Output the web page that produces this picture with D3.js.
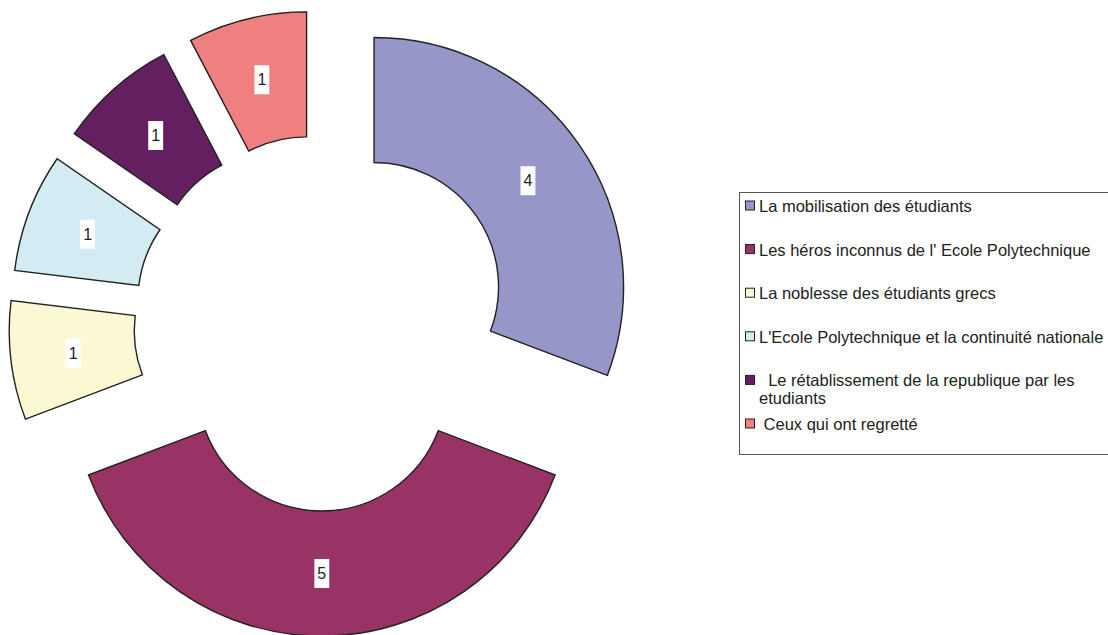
<!DOCTYPE html>
<html>
<head>
<meta charset="utf-8">
<script src="https://cdn.jsdelivr.net/npm/d3@7"></script>
<style>
  html, body { margin: 0; padding: 0; background: #fff; }
  svg { display: block; }
</style>
</head>
<body>
<div id="chart"></div>
<script>
const categories = [
  "La mobilisation des étudiants",
  "Les héros inconnus de l' Ecole Polytechnique",
  "La noblesse des étudiants grecs",
  "L'Ecole Polytechnique et la continuité nationale",
  "  Le rétablissement de la republique par les etudiants",
  " Ceux qui ont regretté"
];
const values = [4, 5, 1, 1, 1, 1];
const colors = ["#9696c8", "#993366", "#fbf9d3", "#d3ecf3", "#641f61", "#f08080"];

const width = 1108, height = 635;
const cx = 321.8, cy = 323;
const outerR = 249.5, innerR = 124.5;
const explode = 63.5;

const svg = d3.select("#chart").append("svg")
  .attr("width", width)
  .attr("height", height);

const pie = d3.pie().sort(null).value(d => d.value);
const arc = d3.arc().innerRadius(innerR).outerRadius(outerR);
const data = pie(categories.map((c, i) => ({ name: c, value: values[i], color: colors[i] })));

const g = svg.append("g").attr("transform", "translate(" + cx + "," + cy + ")");

const slices = g.selectAll("g.slice")
  .data(data)
  .enter()
  .append("g")
    .attr("class", "slice")
    .attr("transform", function(d) {
      const a = (d.startAngle + d.endAngle) / 2;
      return "translate(" + (Math.sin(a) * explode) + "," + (-Math.cos(a) * explode) + ")";
    });

slices.append("path")
  .attr("d", arc)
  .attr("fill", d => d.data.color)
  .attr("stroke", "#222")
  .attr("stroke-width", 1.4)
  .attr("stroke-linejoin", "miter");

// value labels with white boxes
slices.each(function(d) {
  const sel = d3.select(this);
  const [lx, ly] = arc.centroid(d);
  const t = sel.append("text")
    .attr("x", lx)
    .attr("y", ly)
    .attr("text-anchor", "middle")
    .attr("dominant-baseline", "central")
    .style("font-family", "'Liberation Sans', Arial, sans-serif")
    .style("font-size", "16px")
    .style("fill", "#222")
    .text(d.data.value);
  const w = t.node().getComputedTextLength();
  sel.insert("rect", "text")
    .attr("x", lx - w / 2 - 3)
    .attr("y", ly - 14.5)
    .attr("width", w + 6)
    .attr("height", 29)
    .attr("fill", "#fff");
});

// legend
const legend = svg.append("g");
legend.append("rect")
  .attr("x", 739.5)
  .attr("y", 192.5)
  .attr("width", 380)
  .attr("height", 262)
  .attr("fill", "#fff")
  .attr("stroke", "#555")
  .attr("stroke-width", 1);

const rowY = d3.scaleLinear().domain([0, 1]).range([206, 249.6]);
const maxTextW = 346;

categories.forEach(function(name, i) {
  const y = rowY(i);
  legend.append("rect")
    .attr("x", 745.5)
    .attr("y", y - 5)
    .attr("width", 9)
    .attr("height", 9)
    .attr("fill", colors[i])
    .attr("stroke", "#222")
    .attr("stroke-width", 1);

  const t = legend.append("text")
    .attr("x", 759)
    .attr("y", y)
    .attr("dominant-baseline", "central")
    .attr("xml:space", "preserve")
    .style("white-space", "pre")
    .style("font-family", "'Liberation Sans', Arial, sans-serif")
    .style("font-size", "16.5px")
    .style("fill", "#222");

  // simple word wrap
  const words = name.split(" ");
  let line = "";
  let lineNo = 0;
  let tspan = t.append("tspan").attr("x", 759).attr("y", y);
  words.forEach(function(w, k) {
    const test = k === 0 ? w : line + " " + w;
    tspan.text(test);
    if (tspan.node().getComputedTextLength() > maxTextW && line.trim() !== "") {
      tspan.text(line);
      lineNo++;
      line = w;
      tspan = t.append("tspan").attr("x", 759).attr("y", y + lineNo * 18).text(w);
    } else {
      line = test;
    }
  });
});
</script>
</body>
</html>
